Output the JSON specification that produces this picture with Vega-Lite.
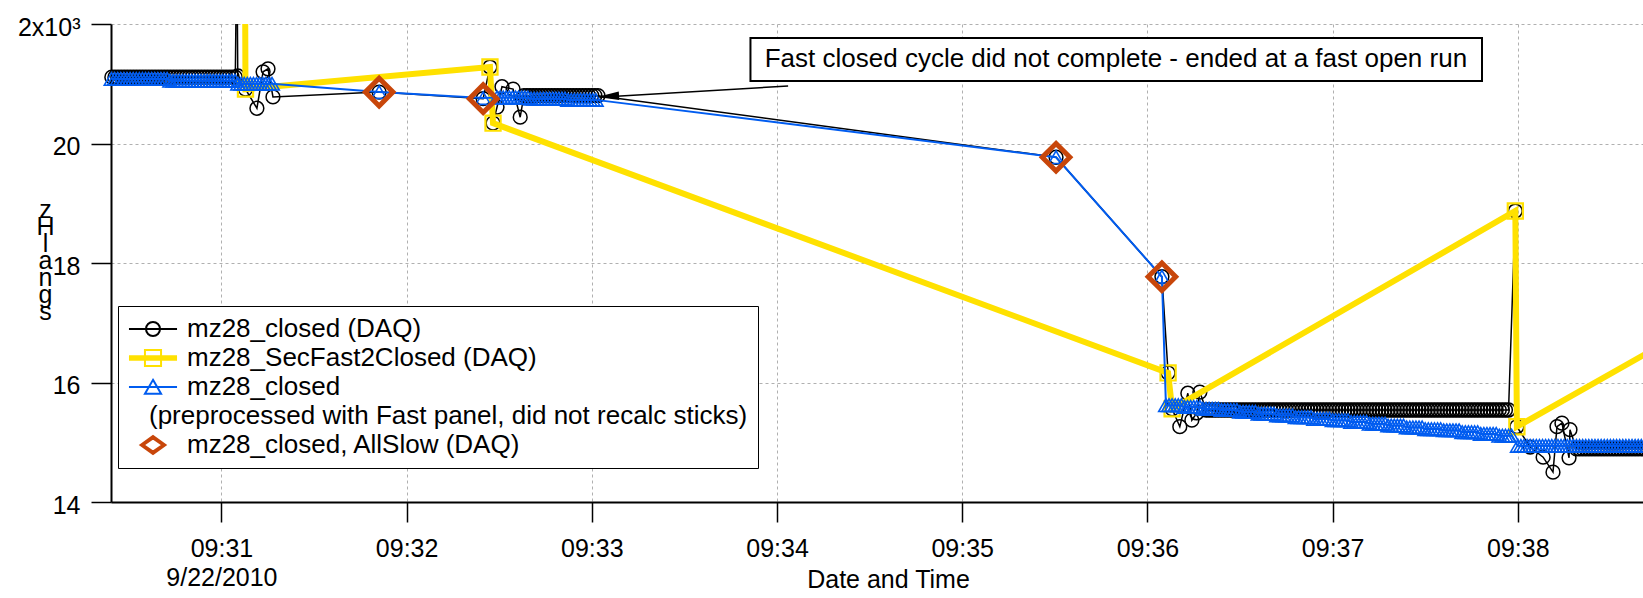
{
  "$schema": "https://vega.github.io/schema/vega-lite/v6.json",
  "width": 1532,
  "height": 478,
  "autosize": {"type": "none"},
  "padding": {"left": 111, "top": 24, "right": 0, "bottom": 96},
  "background": "white",
  "config": {
    "font": "Liberation Sans",
    "view": {"stroke": null},
    "axis": {
      "labelFontSize": 25, "labelColor": "black", "titleColor": "black", "titleFontSize": 25, "titleFontWeight": "normal",
      "domainColor": "black", "domainWidth": 2, "tickColor": "black", "tickWidth": 1.5, "tickSize": 20,
      "grid": true, "gridColor": "#b0b0b0", "gridDash": [3, 3], "gridWidth": 1
    }
  },
  "datasets": {
    "black": [
      {"t":"2010-09-22T09:30:24.500Z","v":21.11},{"t":"2010-09-22T09:30:25.500Z","v":21.11},{"t":"2010-09-22T09:30:26.500Z","v":21.11},
      {"t":"2010-09-22T09:30:27.500Z","v":21.11},{"t":"2010-09-22T09:30:28.500Z","v":21.11},{"t":"2010-09-22T09:30:29.500Z","v":21.11},
      {"t":"2010-09-22T09:30:30.500Z","v":21.11},{"t":"2010-09-22T09:30:31.500Z","v":21.11},{"t":"2010-09-22T09:30:32.500Z","v":21.11},
      {"t":"2010-09-22T09:30:33.500Z","v":21.11},{"t":"2010-09-22T09:30:34.500Z","v":21.11},{"t":"2010-09-22T09:30:35.500Z","v":21.11},
      {"t":"2010-09-22T09:30:36.500Z","v":21.11},{"t":"2010-09-22T09:30:37.500Z","v":21.11},{"t":"2010-09-22T09:30:38.500Z","v":21.11},
      {"t":"2010-09-22T09:30:39.500Z","v":21.11},{"t":"2010-09-22T09:30:40.500Z","v":21.11},{"t":"2010-09-22T09:30:41.500Z","v":21.11},
      {"t":"2010-09-22T09:30:42.500Z","v":21.11},{"t":"2010-09-22T09:30:43.500Z","v":21.11},{"t":"2010-09-22T09:30:44.500Z","v":21.11},
      {"t":"2010-09-22T09:30:45.500Z","v":21.11},{"t":"2010-09-22T09:30:46.500Z","v":21.11},{"t":"2010-09-22T09:30:47.500Z","v":21.11},
      {"t":"2010-09-22T09:30:48.500Z","v":21.11},{"t":"2010-09-22T09:30:49.500Z","v":21.11},{"t":"2010-09-22T09:30:50.500Z","v":21.11},
      {"t":"2010-09-22T09:30:51.500Z","v":21.11},{"t":"2010-09-22T09:30:52.500Z","v":21.11},{"t":"2010-09-22T09:30:53.500Z","v":21.11},
      {"t":"2010-09-22T09:30:54.500Z","v":21.11},{"t":"2010-09-22T09:30:55.500Z","v":21.11},{"t":"2010-09-22T09:30:56.500Z","v":21.11},
      {"t":"2010-09-22T09:30:57.500Z","v":21.11},{"t":"2010-09-22T09:30:58.500Z","v":21.11},{"t":"2010-09-22T09:30:59.500Z","v":21.11},
      {"t":"2010-09-22T09:31:00.500Z","v":21.11},{"t":"2010-09-22T09:31:01.500Z","v":21.11},{"t":"2010-09-22T09:31:02.500Z","v":21.11},
      {"t":"2010-09-22T09:31:03.500Z","v":21.11},{"t":"2010-09-22T09:31:04.500Z","v":21.11},
      {"t":"2010-09-22T09:31:05.000Z","v":23.5},{"t":"2010-09-22T09:31:05.300Z","v":21.13},
      {"t":"2010-09-22T09:31:07.800Z","v":20.91},{"t":"2010-09-22T09:31:11.500Z","v":20.59},{"t":"2010-09-22T09:31:13.500Z","v":21.2},
      {"t":"2010-09-22T09:31:15.100Z","v":21.25},{"t":"2010-09-22T09:31:16.700Z","v":20.78},{"t":"2010-09-22T09:31:51.100Z","v":20.86},
      {"t":"2010-09-22T09:32:24.800Z","v":20.75},{"t":"2010-09-22T09:32:27.000Z","v":21.28},{"t":"2010-09-22T09:32:28.000Z","v":20.34},
      {"t":"2010-09-22T09:32:29.300Z","v":20.61},{"t":"2010-09-22T09:32:30.900Z","v":20.95},{"t":"2010-09-22T09:32:34.500Z","v":20.91},
      {"t":"2010-09-22T09:32:36.800Z","v":20.44},
      {"t":"2010-09-22T09:32:38.000Z","v":20.8},{"t":"2010-09-22T09:32:39.000Z","v":20.8},{"t":"2010-09-22T09:32:40.000Z","v":20.8},
      {"t":"2010-09-22T09:32:41.000Z","v":20.8},{"t":"2010-09-22T09:32:42.000Z","v":20.8},{"t":"2010-09-22T09:32:43.000Z","v":20.8},
      {"t":"2010-09-22T09:32:44.000Z","v":20.8},{"t":"2010-09-22T09:32:45.000Z","v":20.8},{"t":"2010-09-22T09:32:46.000Z","v":20.8},
      {"t":"2010-09-22T09:32:47.000Z","v":20.8},{"t":"2010-09-22T09:32:48.000Z","v":20.8},{"t":"2010-09-22T09:32:49.000Z","v":20.8},
      {"t":"2010-09-22T09:32:50.000Z","v":20.8},{"t":"2010-09-22T09:32:51.000Z","v":20.8},{"t":"2010-09-22T09:32:52.000Z","v":20.8},
      {"t":"2010-09-22T09:32:53.000Z","v":20.8},{"t":"2010-09-22T09:32:54.000Z","v":20.8},{"t":"2010-09-22T09:32:55.000Z","v":20.8},
      {"t":"2010-09-22T09:32:56.000Z","v":20.8},{"t":"2010-09-22T09:32:57.000Z","v":20.8},{"t":"2010-09-22T09:32:58.000Z","v":20.8},
      {"t":"2010-09-22T09:32:59.000Z","v":20.8},{"t":"2010-09-22T09:33:00.000Z","v":20.8},{"t":"2010-09-22T09:33:01.000Z","v":20.8},
      {"t":"2010-09-22T09:33:02.000Z","v":20.8},
      {"t":"2010-09-22T09:35:30.400Z","v":19.77},{"t":"2010-09-22T09:36:04.700Z","v":17.77},{"t":"2010-09-22T09:36:06.700Z","v":16.16},
      {"t":"2010-09-22T09:36:08.000Z","v":15.56},{"t":"2010-09-22T09:36:10.500Z","v":15.26},{"t":"2010-09-22T09:36:13.100Z","v":15.82},
      {"t":"2010-09-22T09:36:14.400Z","v":15.37},{"t":"2010-09-22T09:36:16.000Z","v":15.49},{"t":"2010-09-22T09:36:17.000Z","v":15.84},
      {"t":"2010-09-22T09:36:19.000Z","v":15.54},{"t":"2010-09-22T09:36:20.000Z","v":15.54},{"t":"2010-09-22T09:36:21.000Z","v":15.54},
      {"t":"2010-09-22T09:36:22.000Z","v":15.54},{"t":"2010-09-22T09:36:23.000Z","v":15.54},{"t":"2010-09-22T09:36:24.000Z","v":15.54},
      {"t":"2010-09-22T09:36:25.000Z","v":15.54},{"t":"2010-09-22T09:36:26.000Z","v":15.54},{"t":"2010-09-22T09:36:27.000Z","v":15.54},
      {"t":"2010-09-22T09:36:28.000Z","v":15.54},{"t":"2010-09-22T09:36:29.000Z","v":15.54},{"t":"2010-09-22T09:36:30.000Z","v":15.54},
      {"t":"2010-09-22T09:36:31.000Z","v":15.54},{"t":"2010-09-22T09:36:32.000Z","v":15.54},{"t":"2010-09-22T09:36:33.000Z","v":15.54},
      {"t":"2010-09-22T09:36:34.000Z","v":15.54},{"t":"2010-09-22T09:36:35.000Z","v":15.54},{"t":"2010-09-22T09:36:36.000Z","v":15.54},
      {"t":"2010-09-22T09:36:37.000Z","v":15.54},{"t":"2010-09-22T09:36:38.000Z","v":15.54},{"t":"2010-09-22T09:36:39.000Z","v":15.54},
      {"t":"2010-09-22T09:36:40.000Z","v":15.54},{"t":"2010-09-22T09:36:41.000Z","v":15.54},{"t":"2010-09-22T09:36:42.000Z","v":15.54},
      {"t":"2010-09-22T09:36:43.000Z","v":15.54},{"t":"2010-09-22T09:36:44.000Z","v":15.54},{"t":"2010-09-22T09:36:45.000Z","v":15.54},
      {"t":"2010-09-22T09:36:46.000Z","v":15.54},{"t":"2010-09-22T09:36:47.000Z","v":15.54},{"t":"2010-09-22T09:36:48.000Z","v":15.54},
      {"t":"2010-09-22T09:36:49.000Z","v":15.54},{"t":"2010-09-22T09:36:50.000Z","v":15.54},{"t":"2010-09-22T09:36:51.000Z","v":15.54},
      {"t":"2010-09-22T09:36:52.000Z","v":15.54},{"t":"2010-09-22T09:36:53.000Z","v":15.54},{"t":"2010-09-22T09:36:54.000Z","v":15.54},
      {"t":"2010-09-22T09:36:55.000Z","v":15.54},{"t":"2010-09-22T09:36:56.000Z","v":15.54},{"t":"2010-09-22T09:36:57.000Z","v":15.54},
      {"t":"2010-09-22T09:36:58.000Z","v":15.54},{"t":"2010-09-22T09:36:59.000Z","v":15.54},
      {"t":"2010-09-22T09:37:00.000Z","v":15.54},{"t":"2010-09-22T09:37:01.000Z","v":15.54},{"t":"2010-09-22T09:37:02.000Z","v":15.54},
      {"t":"2010-09-22T09:37:03.000Z","v":15.54},{"t":"2010-09-22T09:37:04.000Z","v":15.54},{"t":"2010-09-22T09:37:05.000Z","v":15.54},
      {"t":"2010-09-22T09:37:06.000Z","v":15.54},{"t":"2010-09-22T09:37:07.000Z","v":15.54},{"t":"2010-09-22T09:37:08.000Z","v":15.54},
      {"t":"2010-09-22T09:37:09.000Z","v":15.54},{"t":"2010-09-22T09:37:10.000Z","v":15.54},{"t":"2010-09-22T09:37:11.000Z","v":15.54},
      {"t":"2010-09-22T09:37:12.000Z","v":15.54},{"t":"2010-09-22T09:37:13.000Z","v":15.54},{"t":"2010-09-22T09:37:14.000Z","v":15.54},
      {"t":"2010-09-22T09:37:15.000Z","v":15.54},{"t":"2010-09-22T09:37:16.000Z","v":15.54},{"t":"2010-09-22T09:37:17.000Z","v":15.54},
      {"t":"2010-09-22T09:37:18.000Z","v":15.54},{"t":"2010-09-22T09:37:19.000Z","v":15.54},{"t":"2010-09-22T09:37:20.000Z","v":15.54},
      {"t":"2010-09-22T09:37:21.000Z","v":15.54},{"t":"2010-09-22T09:37:22.000Z","v":15.54},{"t":"2010-09-22T09:37:23.000Z","v":15.54},
      {"t":"2010-09-22T09:37:24.000Z","v":15.54},{"t":"2010-09-22T09:37:25.000Z","v":15.54},{"t":"2010-09-22T09:37:26.000Z","v":15.54},
      {"t":"2010-09-22T09:37:27.000Z","v":15.54},{"t":"2010-09-22T09:37:28.000Z","v":15.54},{"t":"2010-09-22T09:37:29.000Z","v":15.54},
      {"t":"2010-09-22T09:37:30.000Z","v":15.54},{"t":"2010-09-22T09:37:31.000Z","v":15.54},{"t":"2010-09-22T09:37:32.000Z","v":15.54},
      {"t":"2010-09-22T09:37:33.000Z","v":15.54},{"t":"2010-09-22T09:37:34.000Z","v":15.54},{"t":"2010-09-22T09:37:35.000Z","v":15.54},
      {"t":"2010-09-22T09:37:36.000Z","v":15.54},{"t":"2010-09-22T09:37:37.000Z","v":15.54},{"t":"2010-09-22T09:37:38.000Z","v":15.54},
      {"t":"2010-09-22T09:37:39.000Z","v":15.54},{"t":"2010-09-22T09:37:40.000Z","v":15.54},{"t":"2010-09-22T09:37:41.000Z","v":15.54},
      {"t":"2010-09-22T09:37:42.000Z","v":15.54},{"t":"2010-09-22T09:37:43.000Z","v":15.54},{"t":"2010-09-22T09:37:44.000Z","v":15.54},
      {"t":"2010-09-22T09:37:45.000Z","v":15.54},{"t":"2010-09-22T09:37:46.000Z","v":15.54},{"t":"2010-09-22T09:37:47.000Z","v":15.54},
      {"t":"2010-09-22T09:37:48.000Z","v":15.54},{"t":"2010-09-22T09:37:49.000Z","v":15.54},{"t":"2010-09-22T09:37:50.000Z","v":15.54},
      {"t":"2010-09-22T09:37:51.000Z","v":15.54},{"t":"2010-09-22T09:37:52.000Z","v":15.54},{"t":"2010-09-22T09:37:53.000Z","v":15.54},
      {"t":"2010-09-22T09:37:54.000Z","v":15.54},{"t":"2010-09-22T09:37:55.000Z","v":15.54},{"t":"2010-09-22T09:37:56.000Z","v":15.54},
      {"t":"2010-09-22T09:37:57.000Z","v":15.54},
      {"t":"2010-09-22T09:37:59.200Z","v":18.87},{"t":"2010-09-22T09:37:59.700Z","v":15.26},{"t":"2010-09-22T09:38:04.000Z","v":14.92},
      {"t":"2010-09-22T09:38:08.200Z","v":14.75},{"t":"2010-09-22T09:38:11.400Z","v":14.5},{"t":"2010-09-22T09:38:12.700Z","v":15.26},
      {"t":"2010-09-22T09:38:14.300Z","v":15.32},{"t":"2010-09-22T09:38:16.600Z","v":14.74},{"t":"2010-09-22T09:38:16.900Z","v":15.21},
      {"t":"2010-09-22T09:38:19.000Z","v":14.89},{"t":"2010-09-22T09:38:20.000Z","v":14.89},{"t":"2010-09-22T09:38:21.000Z","v":14.89},
      {"t":"2010-09-22T09:38:22.000Z","v":14.89},{"t":"2010-09-22T09:38:23.000Z","v":14.89},{"t":"2010-09-22T09:38:24.000Z","v":14.89},
      {"t":"2010-09-22T09:38:25.000Z","v":14.89},{"t":"2010-09-22T09:38:26.000Z","v":14.89},{"t":"2010-09-22T09:38:27.000Z","v":14.89},
      {"t":"2010-09-22T09:38:28.000Z","v":14.89},{"t":"2010-09-22T09:38:29.000Z","v":14.89},{"t":"2010-09-22T09:38:30.000Z","v":14.89},
      {"t":"2010-09-22T09:38:31.000Z","v":14.89},{"t":"2010-09-22T09:38:32.000Z","v":14.89},{"t":"2010-09-22T09:38:33.000Z","v":14.89},
      {"t":"2010-09-22T09:38:34.000Z","v":14.89},{"t":"2010-09-22T09:38:35.000Z","v":14.89},{"t":"2010-09-22T09:38:36.000Z","v":14.89},
      {"t":"2010-09-22T09:38:37.000Z","v":14.89},{"t":"2010-09-22T09:38:38.000Z","v":14.89},{"t":"2010-09-22T09:38:39.000Z","v":14.89},
      {"t":"2010-09-22T09:38:40.000Z","v":14.89},{"t":"2010-09-22T09:38:41.000Z","v":14.89},{"t":"2010-09-22T09:38:42.000Z","v":14.89},
      {"t":"2010-09-22T09:38:43.000Z","v":14.89}
    ],
    "yellow": [
      {"t":"2010-09-22T09:31:07.600Z","v":23.5},{"t":"2010-09-22T09:31:07.800Z","v":20.91},
      {"t":"2010-09-22T09:32:27.000Z","v":21.28},{"t":"2010-09-22T09:32:28.000Z","v":20.34},
      {"t":"2010-09-22T09:36:06.700Z","v":16.16},{"t":"2010-09-22T09:36:08.000Z","v":15.56},
      {"t":"2010-09-22T09:37:59.200Z","v":18.87},{"t":"2010-09-22T09:37:59.700Z","v":15.26},
      {"t":"2010-09-22T09:39:51.200Z","v":18.52}
    ],
    "blue": [
      {"t":"2010-09-22T09:30:24.400Z","v":21.08},{"t":"2010-09-22T09:30:25.400Z","v":21.08},{"t":"2010-09-22T09:30:26.400Z","v":21.08},
      {"t":"2010-09-22T09:30:27.400Z","v":21.08},{"t":"2010-09-22T09:30:28.400Z","v":21.08},{"t":"2010-09-22T09:30:29.400Z","v":21.08},
      {"t":"2010-09-22T09:30:30.400Z","v":21.08},{"t":"2010-09-22T09:30:31.400Z","v":21.08},{"t":"2010-09-22T09:30:32.400Z","v":21.08},
      {"t":"2010-09-22T09:30:33.400Z","v":21.08},{"t":"2010-09-22T09:30:34.400Z","v":21.08},{"t":"2010-09-22T09:30:35.400Z","v":21.08},
      {"t":"2010-09-22T09:30:36.400Z","v":21.08},{"t":"2010-09-22T09:30:37.400Z","v":21.08},{"t":"2010-09-22T09:30:38.400Z","v":21.08},
      {"t":"2010-09-22T09:30:39.400Z","v":21.08},{"t":"2010-09-22T09:30:40.400Z","v":21.08},{"t":"2010-09-22T09:30:41.400Z","v":21.08},
      {"t":"2010-09-22T09:30:42.400Z","v":21.08},
      {"t":"2010-09-22T09:30:43.400Z","v":21.05},{"t":"2010-09-22T09:30:44.400Z","v":21.05},{"t":"2010-09-22T09:30:45.400Z","v":21.05},
      {"t":"2010-09-22T09:30:46.400Z","v":21.05},{"t":"2010-09-22T09:30:47.400Z","v":21.05},{"t":"2010-09-22T09:30:48.400Z","v":21.05},
      {"t":"2010-09-22T09:30:49.400Z","v":21.05},{"t":"2010-09-22T09:30:50.400Z","v":21.05},{"t":"2010-09-22T09:30:51.400Z","v":21.05},
      {"t":"2010-09-22T09:30:52.400Z","v":21.05},{"t":"2010-09-22T09:30:53.400Z","v":21.05},{"t":"2010-09-22T09:30:54.400Z","v":21.05},
      {"t":"2010-09-22T09:30:55.400Z","v":21.05},{"t":"2010-09-22T09:30:56.400Z","v":21.05},{"t":"2010-09-22T09:30:57.400Z","v":21.05},
      {"t":"2010-09-22T09:30:58.400Z","v":21.05},{"t":"2010-09-22T09:30:59.400Z","v":21.05},{"t":"2010-09-22T09:31:00.400Z","v":21.05},
      {"t":"2010-09-22T09:31:01.400Z","v":21.05},{"t":"2010-09-22T09:31:02.400Z","v":21.05},{"t":"2010-09-22T09:31:03.400Z","v":21.05},
      {"t":"2010-09-22T09:31:04.400Z","v":21.05},
      {"t":"2010-09-22T09:31:05.400Z","v":21.0},{"t":"2010-09-22T09:31:06.400Z","v":21.0},{"t":"2010-09-22T09:31:07.400Z","v":21.0},
      {"t":"2010-09-22T09:31:08.400Z","v":21.0},{"t":"2010-09-22T09:31:09.400Z","v":21.0},{"t":"2010-09-22T09:31:10.400Z","v":21.0},
      {"t":"2010-09-22T09:31:11.400Z","v":21.0},{"t":"2010-09-22T09:31:12.400Z","v":21.0},{"t":"2010-09-22T09:31:13.400Z","v":21.0},
      {"t":"2010-09-22T09:31:14.400Z","v":21.0},{"t":"2010-09-22T09:31:15.400Z","v":21.0},{"t":"2010-09-22T09:31:16.400Z","v":21.0},
      {"t":"2010-09-22T09:31:51.100Z","v":20.86},{"t":"2010-09-22T09:32:24.800Z","v":20.76},
      {"t":"2010-09-22T09:32:29.300Z","v":20.77},{"t":"2010-09-22T09:32:30.300Z","v":20.77},{"t":"2010-09-22T09:32:31.300Z","v":20.77},
      {"t":"2010-09-22T09:32:32.300Z","v":20.77},{"t":"2010-09-22T09:32:33.300Z","v":20.77},{"t":"2010-09-22T09:32:34.300Z","v":20.77},
      {"t":"2010-09-22T09:32:35.300Z","v":20.77},{"t":"2010-09-22T09:32:36.300Z","v":20.77},{"t":"2010-09-22T09:32:37.300Z","v":20.77},
      {"t":"2010-09-22T09:32:38.300Z","v":20.77},{"t":"2010-09-22T09:32:39.300Z","v":20.77},
      {"t":"2010-09-22T09:32:40.300Z","v":20.75},{"t":"2010-09-22T09:32:41.300Z","v":20.75},{"t":"2010-09-22T09:32:42.300Z","v":20.75},
      {"t":"2010-09-22T09:32:43.300Z","v":20.75},{"t":"2010-09-22T09:32:44.300Z","v":20.75},{"t":"2010-09-22T09:32:45.300Z","v":20.75},
      {"t":"2010-09-22T09:32:46.300Z","v":20.75},{"t":"2010-09-22T09:32:47.300Z","v":20.75},{"t":"2010-09-22T09:32:48.300Z","v":20.75},
      {"t":"2010-09-22T09:32:49.300Z","v":20.75},{"t":"2010-09-22T09:32:50.300Z","v":20.75},{"t":"2010-09-22T09:32:51.300Z","v":20.75},
      {"t":"2010-09-22T09:32:52.300Z","v":20.73},{"t":"2010-09-22T09:32:53.300Z","v":20.73},{"t":"2010-09-22T09:32:54.300Z","v":20.73},
      {"t":"2010-09-22T09:32:55.300Z","v":20.73},{"t":"2010-09-22T09:32:56.300Z","v":20.73},{"t":"2010-09-22T09:32:57.300Z","v":20.73},
      {"t":"2010-09-22T09:32:58.300Z","v":20.73},{"t":"2010-09-22T09:32:59.300Z","v":20.73},{"t":"2010-09-22T09:33:00.300Z","v":20.73},
      {"t":"2010-09-22T09:33:01.300Z","v":20.73},
      {"t":"2010-09-22T09:35:30.400Z","v":19.77},{"t":"2010-09-22T09:36:04.700Z","v":17.77},
      {"t":"2010-09-22T09:36:06.000Z","v":15.62},{"t":"2010-09-22T09:36:07.000Z","v":15.62},{"t":"2010-09-22T09:36:08.000Z","v":15.62},
      {"t":"2010-09-22T09:36:09.000Z","v":15.62},{"t":"2010-09-22T09:36:10.000Z","v":15.62},{"t":"2010-09-22T09:36:11.000Z","v":15.62},
      {"t":"2010-09-22T09:36:12.000Z","v":15.59},{"t":"2010-09-22T09:36:13.000Z","v":15.59},{"t":"2010-09-22T09:36:14.000Z","v":15.59},
      {"t":"2010-09-22T09:36:15.000Z","v":15.59},{"t":"2010-09-22T09:36:16.000Z","v":15.59},{"t":"2010-09-22T09:36:17.000Z","v":15.59},
      {"t":"2010-09-22T09:36:18.000Z","v":15.56},{"t":"2010-09-22T09:36:19.000Z","v":15.56},{"t":"2010-09-22T09:36:20.000Z","v":15.56},
      {"t":"2010-09-22T09:36:21.000Z","v":15.56},{"t":"2010-09-22T09:36:22.000Z","v":15.56},{"t":"2010-09-22T09:36:23.000Z","v":15.56},
      {"t":"2010-09-22T09:36:24.000Z","v":15.54},{"t":"2010-09-22T09:36:25.000Z","v":15.54},{"t":"2010-09-22T09:36:26.000Z","v":15.54},
      {"t":"2010-09-22T09:36:27.000Z","v":15.54},{"t":"2010-09-22T09:36:28.000Z","v":15.54},{"t":"2010-09-22T09:36:29.000Z","v":15.54},
      {"t":"2010-09-22T09:36:30.000Z","v":15.51},{"t":"2010-09-22T09:36:31.000Z","v":15.51},{"t":"2010-09-22T09:36:32.000Z","v":15.51},
      {"t":"2010-09-22T09:36:33.000Z","v":15.51},{"t":"2010-09-22T09:36:34.000Z","v":15.51},{"t":"2010-09-22T09:36:35.000Z","v":15.51},
      {"t":"2010-09-22T09:36:36.000Z","v":15.48},{"t":"2010-09-22T09:36:37.000Z","v":15.48},{"t":"2010-09-22T09:36:38.000Z","v":15.48},
      {"t":"2010-09-22T09:36:39.000Z","v":15.48},{"t":"2010-09-22T09:36:40.000Z","v":15.48},{"t":"2010-09-22T09:36:41.000Z","v":15.48},
      {"t":"2010-09-22T09:36:42.000Z","v":15.45},{"t":"2010-09-22T09:36:43.000Z","v":15.45},{"t":"2010-09-22T09:36:44.000Z","v":15.45},
      {"t":"2010-09-22T09:36:45.000Z","v":15.45},{"t":"2010-09-22T09:36:46.000Z","v":15.45},{"t":"2010-09-22T09:36:47.000Z","v":15.45},
      {"t":"2010-09-22T09:36:48.000Z","v":15.42},{"t":"2010-09-22T09:36:49.000Z","v":15.42},{"t":"2010-09-22T09:36:50.000Z","v":15.42},
      {"t":"2010-09-22T09:36:51.000Z","v":15.42},{"t":"2010-09-22T09:36:52.000Z","v":15.42},{"t":"2010-09-22T09:36:53.000Z","v":15.42},
      {"t":"2010-09-22T09:36:54.000Z","v":15.39},{"t":"2010-09-22T09:36:55.000Z","v":15.39},{"t":"2010-09-22T09:36:56.000Z","v":15.39},
      {"t":"2010-09-22T09:36:57.000Z","v":15.39},{"t":"2010-09-22T09:36:58.000Z","v":15.39},{"t":"2010-09-22T09:36:59.000Z","v":15.39},
      {"t":"2010-09-22T09:37:00.000Z","v":15.37},{"t":"2010-09-22T09:37:01.000Z","v":15.37},{"t":"2010-09-22T09:37:02.000Z","v":15.37},
      {"t":"2010-09-22T09:37:03.000Z","v":15.37},{"t":"2010-09-22T09:37:04.000Z","v":15.37},{"t":"2010-09-22T09:37:05.000Z","v":15.37},
      {"t":"2010-09-22T09:37:06.000Z","v":15.34},{"t":"2010-09-22T09:37:07.000Z","v":15.34},{"t":"2010-09-22T09:37:08.000Z","v":15.34},
      {"t":"2010-09-22T09:37:09.000Z","v":15.34},{"t":"2010-09-22T09:37:10.000Z","v":15.34},{"t":"2010-09-22T09:37:11.000Z","v":15.34},
      {"t":"2010-09-22T09:37:12.000Z","v":15.31},{"t":"2010-09-22T09:37:13.000Z","v":15.31},{"t":"2010-09-22T09:37:14.000Z","v":15.31},
      {"t":"2010-09-22T09:37:15.000Z","v":15.31},{"t":"2010-09-22T09:37:16.000Z","v":15.31},{"t":"2010-09-22T09:37:17.000Z","v":15.31},
      {"t":"2010-09-22T09:37:18.000Z","v":15.28},{"t":"2010-09-22T09:37:19.000Z","v":15.28},{"t":"2010-09-22T09:37:20.000Z","v":15.28},
      {"t":"2010-09-22T09:37:21.000Z","v":15.28},{"t":"2010-09-22T09:37:22.000Z","v":15.28},{"t":"2010-09-22T09:37:23.000Z","v":15.28},
      {"t":"2010-09-22T09:37:24.000Z","v":15.25},{"t":"2010-09-22T09:37:25.000Z","v":15.25},{"t":"2010-09-22T09:37:26.000Z","v":15.25},
      {"t":"2010-09-22T09:37:27.000Z","v":15.25},{"t":"2010-09-22T09:37:28.000Z","v":15.25},{"t":"2010-09-22T09:37:29.000Z","v":15.25},
      {"t":"2010-09-22T09:37:30.000Z","v":15.22},{"t":"2010-09-22T09:37:31.000Z","v":15.22},{"t":"2010-09-22T09:37:32.000Z","v":15.22},
      {"t":"2010-09-22T09:37:33.000Z","v":15.22},{"t":"2010-09-22T09:37:34.000Z","v":15.22},{"t":"2010-09-22T09:37:35.000Z","v":15.22},
      {"t":"2010-09-22T09:37:36.000Z","v":15.2},{"t":"2010-09-22T09:37:37.000Z","v":15.2},{"t":"2010-09-22T09:37:38.000Z","v":15.2},
      {"t":"2010-09-22T09:37:39.000Z","v":15.2},{"t":"2010-09-22T09:37:40.000Z","v":15.2},{"t":"2010-09-22T09:37:41.000Z","v":15.2},
      {"t":"2010-09-22T09:37:42.000Z","v":15.17},{"t":"2010-09-22T09:37:43.000Z","v":15.17},{"t":"2010-09-22T09:37:44.000Z","v":15.17},
      {"t":"2010-09-22T09:37:45.000Z","v":15.17},{"t":"2010-09-22T09:37:46.000Z","v":15.17},{"t":"2010-09-22T09:37:47.000Z","v":15.17},
      {"t":"2010-09-22T09:37:48.000Z","v":15.14},{"t":"2010-09-22T09:37:49.000Z","v":15.14},{"t":"2010-09-22T09:37:50.000Z","v":15.14},
      {"t":"2010-09-22T09:37:51.000Z","v":15.14},{"t":"2010-09-22T09:37:52.000Z","v":15.14},{"t":"2010-09-22T09:37:53.000Z","v":15.14},
      {"t":"2010-09-22T09:37:54.000Z","v":15.11},{"t":"2010-09-22T09:37:55.000Z","v":15.11},{"t":"2010-09-22T09:37:56.000Z","v":15.11},
      {"t":"2010-09-22T09:37:57.000Z","v":15.11},{"t":"2010-09-22T09:37:58.000Z","v":15.11},
      {"t":"2010-09-22T09:38:00.000Z","v":14.94},{"t":"2010-09-22T09:38:01.000Z","v":14.94},{"t":"2010-09-22T09:38:02.000Z","v":14.94},
      {"t":"2010-09-22T09:38:03.000Z","v":14.94},{"t":"2010-09-22T09:38:04.000Z","v":14.94},{"t":"2010-09-22T09:38:05.000Z","v":14.94},
      {"t":"2010-09-22T09:38:06.000Z","v":14.94},{"t":"2010-09-22T09:38:07.000Z","v":14.94},{"t":"2010-09-22T09:38:08.000Z","v":14.94},
      {"t":"2010-09-22T09:38:09.000Z","v":14.94},{"t":"2010-09-22T09:38:10.000Z","v":14.94},{"t":"2010-09-22T09:38:11.000Z","v":14.94},
      {"t":"2010-09-22T09:38:12.000Z","v":14.94},{"t":"2010-09-22T09:38:13.000Z","v":14.94},{"t":"2010-09-22T09:38:14.000Z","v":14.94},
      {"t":"2010-09-22T09:38:15.000Z","v":14.94},{"t":"2010-09-22T09:38:16.000Z","v":14.94},{"t":"2010-09-22T09:38:17.000Z","v":14.94},
      {"t":"2010-09-22T09:38:18.000Z","v":14.94},{"t":"2010-09-22T09:38:19.000Z","v":14.94},{"t":"2010-09-22T09:38:20.000Z","v":14.94},
      {"t":"2010-09-22T09:38:21.000Z","v":14.94},{"t":"2010-09-22T09:38:22.000Z","v":14.94},{"t":"2010-09-22T09:38:23.000Z","v":14.94},
      {"t":"2010-09-22T09:38:24.000Z","v":14.94},{"t":"2010-09-22T09:38:25.000Z","v":14.94},{"t":"2010-09-22T09:38:26.000Z","v":14.94},
      {"t":"2010-09-22T09:38:27.000Z","v":14.94},{"t":"2010-09-22T09:38:28.000Z","v":14.94},{"t":"2010-09-22T09:38:29.000Z","v":14.94},
      {"t":"2010-09-22T09:38:30.000Z","v":14.94},{"t":"2010-09-22T09:38:31.000Z","v":14.94},{"t":"2010-09-22T09:38:32.000Z","v":14.94},
      {"t":"2010-09-22T09:38:33.000Z","v":14.94},{"t":"2010-09-22T09:38:34.000Z","v":14.94},{"t":"2010-09-22T09:38:35.000Z","v":14.94},
      {"t":"2010-09-22T09:38:36.000Z","v":14.94},{"t":"2010-09-22T09:38:37.000Z","v":14.94},{"t":"2010-09-22T09:38:38.000Z","v":14.94},
      {"t":"2010-09-22T09:38:39.000Z","v":14.94},{"t":"2010-09-22T09:38:40.000Z","v":14.94},{"t":"2010-09-22T09:38:41.000Z","v":14.94},
      {"t":"2010-09-22T09:38:42.000Z","v":14.94}
    ],
    "slow": [
      {"t":"2010-09-22T09:31:51.100Z","v":20.86},{"t":"2010-09-22T09:32:24.800Z","v":20.75},
      {"t":"2010-09-22T09:35:30.400Z","v":19.77},{"t":"2010-09-22T09:36:04.700Z","v":17.77}
    ]
  },
  "encoding": {
    "x": {
      "field": "t", "type": "temporal",
      "scale": {"type": "utc", "domain": [
        {"year": 2010, "month": 9, "date": 22, "hours": 9, "minutes": 30, "seconds": 24, "milliseconds": 230, "utc": true},
        {"year": 2010, "month": 9, "date": 22, "hours": 9, "minutes": 38, "seconds": 40, "milliseconds": 560, "utc": true}
      ]},
      "axis": {
        "values": [
          {"year": 2010, "month": 9, "date": 22, "hours": 9, "minutes": 31, "utc": true},
          {"year": 2010, "month": 9, "date": 22, "hours": 9, "minutes": 32, "utc": true},
          {"year": 2010, "month": 9, "date": 22, "hours": 9, "minutes": 33, "utc": true},
          {"year": 2010, "month": 9, "date": 22, "hours": 9, "minutes": 34, "utc": true},
          {"year": 2010, "month": 9, "date": 22, "hours": 9, "minutes": 35, "utc": true},
          {"year": 2010, "month": 9, "date": 22, "hours": 9, "minutes": 36, "utc": true},
          {"year": 2010, "month": 9, "date": 22, "hours": 9, "minutes": 37, "utc": true},
          {"year": 2010, "month": 9, "date": 22, "hours": 9, "minutes": 38, "utc": true}
        ],
        "labelExpr": "utcFormat(datum.value, '%H:%M') == '09:31' ? ['09:31', '9/22/2010'] : utcFormat(datum.value, '%H:%M')",
        "labelLineHeight": 29, "labelPadding": 14, "labelBaseline": "top", "labelFlush": false, "labelOverlap": false,
        "title": "Date and Time", "titleX": 777, "titleY": 65, "titleBaseline": "top", "titleAlign": "center", "titleAnchor": "start"
      }
    },
    "y": {
      "field": "v", "type": "quantitative",
      "scale": {"domain": [14, 22], "nice": false, "zero": false},
      "axis": {
        "values": [14, 16, 18, 20, 22],
        "labelExpr": "datum.value == 22 ? '2x10³' : datum.label",
        "labelPadding": 11, "labelOffset": 3,
        "title": ["z", "H", "l", "a", "n", "g", "s"],
        "titleAngle": 0, "titleX": -66, "titleY": 173, "titleBaseline": "top", "titleAlign": "center", "titleLineHeight": 17
      }
    }
  },
  "layer": [
    {"data": {"name": "black"}, "mark": {"type": "line", "color": "black", "strokeWidth": 1.5, "clip": true}},
    {"data": {"name": "black"}, "mark": {"type": "point", "shape": "circle", "filled": false, "color": "black", "strokeWidth": 1.5, "size": 190, "opacity": 1}},
    {"data": {"name": "yellow"}, "mark": {"type": "line", "color": "#FFE100", "strokeWidth": 6, "clip": true}},
    {"data": {"name": "yellow"}, "mark": {"type": "point", "shape": "square", "filled": false, "color": "#FFE100", "strokeWidth": 2.2, "size": 230, "opacity": 1}},
    {"data": {"name": "blue"}, "mark": {"type": "line", "color": "#005CF0", "strokeWidth": 2, "clip": true}},
    {"data": {"name": "blue"}, "mark": {"type": "point", "shape": "triangle-up", "filled": false, "color": "#005CF0", "strokeWidth": 1.6, "size": 210, "opacity": 1}},
    {"data": {"name": "slow"}, "mark": {"type": "point", "shape": "diamond", "filled": false, "color": "#C8460A", "strokeWidth": 5, "size": 760, "opacity": 1}},
    {
      "data": {"values": [{"t": "2010-09-22T09:33:51.400Z", "t2": "2010-09-22T09:37:48.400Z", "v": 21.766, "v2": 21.046}]},
      "mark": {"type": "rect", "fill": "white", "stroke": "black", "strokeWidth": 2},
      "encoding": {"x2": {"field": "t2"}, "y2": {"field": "v2"}}
    },
    {
      "data": {"values": [{"t": "2010-09-22T09:35:49.800Z", "v": 21.41, "label": "Fast closed cycle did not complete - ended at a fast open run"}]},
      "mark": {"type": "text", "fontSize": 26, "color": "black", "align": "center", "baseline": "middle"},
      "encoding": {"text": {"field": "label"}}
    },
    {
      "data": {"values": [{"t": "2010-09-22T09:34:03.600Z", "v": 20.962, "t2": "2010-09-22T09:33:02.500Z", "v2": 20.776}]},
      "mark": {"type": "rule", "color": "black", "strokeWidth": 1.5},
      "encoding": {"x2": {"field": "t2"}, "y2": {"field": "v2"}}
    },
    {
      "data": {"values": [{"t": "2010-09-22T09:33:01.700Z", "v": 20.778}]},
      "mark": {"type": "point", "shape": "M0,0L2.2,-0.42L2.2,0.42Z", "filled": true, "color": "black", "size": 400, "angle": 356.7, "opacity": 1}
    },
    {
      "data": {"values": [
        {"series": "mz28_closed (DAQ)"}, {"series": "mz28_SecFast2Closed (DAQ)"}, {"series": "mz28_closed"},
        {"series": "(preprocessed with Fast panel, did not recalc sticks)"}, {"series": "mz28_closed, AllSlow (DAQ)"}
      ]},
      "mark": {"type": "point", "filled": false, "opacity": 0},
      "encoding": {
        "color": {
          "field": "series", "type": "nominal",
          "scale": {"domain": ["mz28_closed (DAQ)", "mz28_SecFast2Closed (DAQ)", "mz28_closed", "(preprocessed with Fast panel, did not recalc sticks)", "mz28_closed, AllSlow (DAQ)"],
                    "range": ["black", "#FFE100", "#005CF0", "rgba(0,0,0,0)", "#C8460A"]},
          "legend": {
            "title": null, "orient": "none", "legendX": 7, "legendY": 282,
            "strokeColor": "black", "fillColor": "white", "padding": 10,
            "labelFontSize": 26, "labelColor": "black", "labelBaseline": "middle", "labelAlign": "left", "labelOffset": -17, "labelLimit": 0,
            "symbolSize": 529, "symbolStrokeWidth": 2, "symbolOpacity": 1, "symbolOffset": 12, "rowPadding": 3,
            "labelExpr": "datum.label == '(preprocessed with Fast panel, did not recalc sticks)' ? datum.label : '\u2800\u2800' + datum.label"
          }
        },
        "shape": {
          "field": "series", "type": "nominal",
          "scale": {"domain": ["mz28_closed (DAQ)", "mz28_SecFast2Closed (DAQ)", "mz28_closed", "(preprocessed with Fast panel, did not recalc sticks)", "mz28_closed, AllSlow (DAQ)"],
                    "range": [
                      "M-2.09,0H2.09M-0.61,0A0.61,0.61,0,1,1,0.61,0A0.61,0.61,0,1,1,-0.61,0",
                      "M-2.09,-0.15H2.09M-2.09,0H2.09M-2.09,0.15H2.09M-0.7,-0.7H0.7V0.7H-0.7Z",
                      "M-2.09,0H2.09M0,-0.62L0.7,0.58L-0.7,0.58Z",
                      "M-2.09,0H2.09",
                      "M-2.09,0M2.09,0M-1.09,0L0,-0.78L1.09,0L0,0.78ZM-1,0L0,-0.71L1,0L0,0.71ZM-0.91,0L0,-0.64L0.91,0L0,0.64ZM-0.82,0L0,-0.57L0.82,0L0,0.57Z"
                    ]},
          "legend": {
            "title": null, "orient": "none", "legendX": 7, "legendY": 282,
            "strokeColor": "black", "fillColor": "white", "padding": 10,
            "labelFontSize": 26, "labelColor": "black", "labelBaseline": "middle", "labelAlign": "left", "labelOffset": -17, "labelLimit": 0,
            "symbolSize": 529, "symbolStrokeWidth": 2, "symbolOpacity": 1, "symbolOffset": 12, "rowPadding": 3,
            "labelExpr": "datum.label == '(preprocessed with Fast panel, did not recalc sticks)' ? datum.label : '\u2800\u2800' + datum.label"
          }
        }
      }
    }
  ]
}
